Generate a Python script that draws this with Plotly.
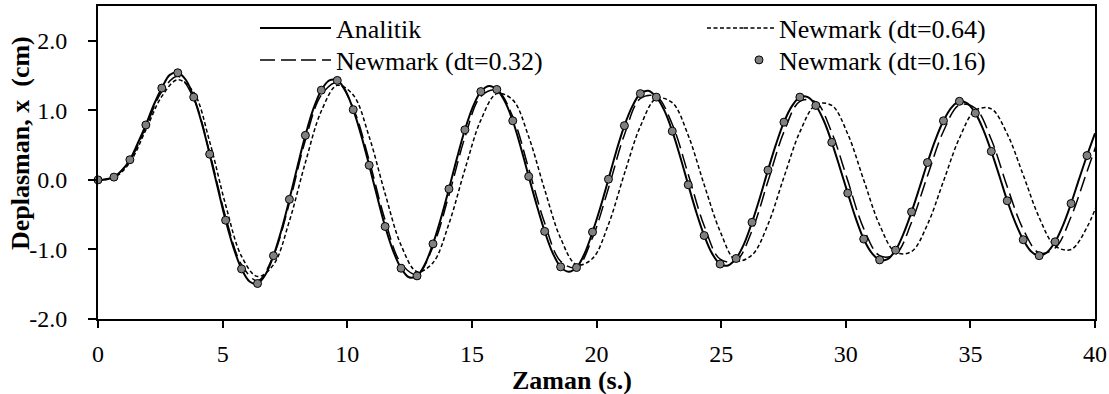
import plotly.graph_objects as go

# ---------------- data ----------------
t_analytic = [0, 0.32, 0.64, 0.96, 1.28, 1.6, 1.92, 2.24, 2.56, 2.88, 3.2, 3.52, 3.84, 4.16, 4.48, 4.8,
              5.12, 5.44, 5.76, 6.08, 6.4, 6.72, 7.04, 7.36, 7.68, 8.0, 8.32, 8.64, 8.96, 9.28, 9.6, 9.92,
              10.24, 10.56, 10.88, 11.2, 11.52, 11.84, 12.16, 12.48, 12.8, 13.12, 13.44, 13.76, 14.08, 14.4,
              14.72, 15.04, 15.36, 15.68, 16.0, 16.32, 16.64, 16.96, 17.28, 17.6, 17.92, 18.24, 18.56, 18.88,
              19.2, 19.52, 19.84, 20.16, 20.48, 20.8, 21.12, 21.44, 21.76, 22.08, 22.4, 22.72, 23.04, 23.36,
              23.68, 24.0, 24.32, 24.64, 24.96, 25.28, 25.6, 25.92, 26.24, 26.56, 26.88, 27.2, 27.52, 27.84,
              28.16, 28.48, 28.8, 29.12, 29.44, 29.76, 30.08, 30.4, 30.72, 31.04, 31.36, 31.68, 32.0, 32.32,
              32.64, 32.96, 33.28, 33.6, 33.92, 34.24, 34.56, 34.88, 35.2, 35.52, 35.84, 36.16, 36.48, 36.8,
              37.12, 37.44, 37.76, 38.08, 38.4, 38.72, 39.04, 39.36, 39.68, 40.0]
x_analytic = [0.00, 0.01, 0.04, 0.14, 0.29, 0.53, 0.79, 1.08, 1.32, 1.51, 1.54, 1.44, 1.19, 0.82, 0.37, -0.11,
              -0.58, -0.98, -1.28, -1.46, -1.49, -1.36, -1.09, -0.72, -0.28, 0.19, 0.64, 1.02, 1.29, 1.43, 1.43, 1.29,
              1.01, 0.64, 0.21, -0.24, -0.67, -1.02, -1.27, -1.40, -1.38, -1.21, -0.92, -0.55, -0.13, 0.31,
              0.72, 1.05, 1.27, 1.35, 1.30, 1.13, 0.85, 0.47, 0.05, -0.36, -0.74, -1.05, -1.25, -1.32,
              -1.26, -1.06, -0.75, -0.39, 0.01, 0.42, 0.78, 1.06, 1.24, 1.28, 1.19, 1.00, 0.70, 0.33,
              -0.07, -0.46, -0.80, -1.06, -1.21, -1.23, -1.13, -0.92, -0.61, -0.25, 0.14, 0.51, 0.83, 1.06,
              1.19, 1.19, 1.07, 0.85, 0.54, 0.18, -0.19, -0.55, -0.85, -1.05, -1.15, -1.14, -1.01, -0.77,
              -0.46, -0.11, 0.25, 0.58, 0.85, 1.04, 1.13, 1.10, 0.96, 0.72, 0.41, 0.06, -0.30, -0.61,
              -0.86, -1.03, -1.09, -1.04, -0.89, -0.65, -0.34, 0.01, 0.35, 0.67]

t_step = [0, 0.64, 1.28, 1.92, 2.56, 3.2, 3.84, 4.48, 5.12, 5.76, 6.4, 7.04, 7.68, 8.32, 8.96, 9.6,
          10.24, 10.88, 11.52, 12.16, 12.8, 13.44, 14.08, 14.72, 15.36, 16.0, 16.64, 17.28, 17.92, 18.56,
          19.2, 19.84, 20.48, 21.12, 21.76, 22.4, 23.04, 23.68, 24.32, 24.96, 25.6, 26.24, 26.88, 27.52,
          28.16, 28.8, 29.44, 30.08, 30.72, 31.36, 32.0, 32.64, 33.28, 33.92, 34.56, 35.2, 35.84, 36.48,
          37.12, 37.76, 38.4, 39.04, 39.68, 40.32]

x_dt064 = [0.00, 0.03, 0.25, 0.72, 1.20, 1.44, 1.26, 0.55, -0.36, -1.10, -1.39, -1.22, -0.59, 0.25, 0.99, 1.36,
           1.22, 0.62, -0.20, -0.94, -1.32, -1.19, -0.63, 0.15, 0.86, 1.24, 1.15, 0.62, -0.14, -0.84,
           -1.22, -1.13, -0.64, 0.09, 0.77, 1.17, 1.11, 0.64, -0.07, -0.74, -1.16, -1.08, -0.64, 0.04,
           0.69, 1.08, 1.07, 0.66, 0.00, -0.65, -1.04, -1.03, -0.64, -0.02, 0.60, 1.00, 1.02, 0.66,
           0.07, -0.54, -0.95, -1.00, -0.68, -0.12]

x_dt032 = [0.00, 0.04, 0.28, 0.76, 1.27, 1.49, 1.17, 0.39, -0.53, -1.22, -1.45, -1.09, -0.33, 0.57, 1.22, 1.40,
           1.03, 0.28, -0.58, -1.20, -1.36, -0.96, -0.22, 0.61, 1.20, 1.29, 0.91, 0.16, -0.62, -1.17,
           -1.26, -0.83, -0.12, 0.65, 1.17, 1.20, 0.80, 0.08, -0.66, -1.14, -1.16, -0.73, -0.02, 0.69,
           1.13, 1.12, 0.68, -0.01, -0.70, -1.09, -1.07, -0.61, 0.06, 0.70, 1.08, 1.03, 0.58, -0.10,
           -0.71, -1.05, -0.98, -0.53, 0.12, 0.78]

x_dt016 = [0.00, 0.04, 0.29, 0.79, 1.32, 1.54, 1.19, 0.37, -0.58, -1.28, -1.49, -1.09, -0.28, 0.64, 1.29, 1.43,
           1.01, 0.21, -0.67, -1.27, -1.38, -0.92, -0.13, 0.72, 1.27, 1.30, 0.85, 0.05, -0.74, -1.25,
           -1.26, -0.75, 0.01, 0.78, 1.24, 1.19, 0.70, -0.07, -0.80, -1.21, -1.13, -0.61, 0.14, 0.83,
           1.19, 1.07, 0.54, -0.19, -0.85, -1.15, -1.01, -0.46, 0.25, 0.85, 1.13, 0.96, 0.41, -0.30,
           -0.86, -1.09, -0.89, -0.34, 0.35]
t_dt016 = t_step[:len(x_dt016)]

x_ticks = [0, 5, 10, 15, 20, 25, 30, 35, 40]
y_ticks = [-2, -1, 0, 1, 2]
y_ticktext = ["%.1f" % v for v in y_ticks]   # plain hyphen-minus, as in the reference

# ---------------- figure ----------------
W, H = 1109, 394
ML, MR, MT, MB = 98, 14, 6, 75
PW, PH = W - ML - MR, H - MT - MB
FONT = "Liberation Serif, Times New Roman, serif"
FS = 24
LEG_FS = 26
DASH_LONG = "15px,6px"
DASH_SHORT = "4px,2.5px"

def px_x(px):   # pixel -> paper x
    return (px - ML) / PW

def px_y(py):   # pixel -> paper y
    return (H - MB - py) / PH

fig = go.Figure()
fig.add_trace(go.Scatter(x=t_analytic, y=x_analytic, mode="lines", name="Analitik",
                         line=dict(color="black", width=2, shape="spline", smoothing=1),
                         legend="legend"))
fig.add_trace(go.Scatter(x=t_step, y=x_dt032, mode="lines", name="Newmark (dt=0.32)",
                         line=dict(color="black", width=1.5, dash=DASH_LONG, shape="spline", smoothing=1),
                         legend="legend2"))
fig.add_trace(go.Scatter(x=t_step, y=x_dt064, mode="lines", name="Newmark (dt=0.64)",
                         line=dict(color="black", width=1.5, dash=DASH_SHORT, shape="spline", smoothing=1),
                         legend="legend3"))
fig.add_trace(go.Scatter(x=t_dt016, y=x_dt016, mode="markers", name="Newmark (dt=0.16)",
                         marker=dict(color="#808080", size=8, line=dict(color="black", width=1)),
                         cliponaxis=False, legend="legend4"))

axis_common = dict(showgrid=False, zeroline=False, showline=True, linecolor="black", linewidth=2,
                   mirror=True, ticks="outside", tickcolor="black", tickwidth=2,
                   tickfont=dict(family=FONT, size=FS, color="black"))

ROW1, ROW2 = 28, 60          # legend row centres (px from top)
COL1, COL2 = 296, 739        # legend box left edges (px)

def leg(xpx, ypx):
    return dict(xref="container", yref="container", x=xpx / W, y=1 - ypx / H,
                xanchor="left", yanchor="middle", bgcolor="rgba(0,0,0,0)",
                font=dict(family=FONT, size=LEG_FS, color="black"), itemwidth=30)

# longer legend line samples, as drawn in the reference
legend_ext = [
    dict(type="line", xref="paper", yref="paper", x0=px_x(260), x1=px_x(303), y0=px_y(ROW1), y1=px_y(ROW1),
         line=dict(color="black", width=2)),
    dict(type="line", xref="paper", yref="paper", x0=px_x(260), x1=px_x(302), y0=px_y(ROW2), y1=px_y(ROW2),
         line=dict(color="black", width=1.5, dash=DASH_LONG)),
    dict(type="line", xref="paper", yref="paper", x0=px_x(707), x1=px_x(745), y0=px_y(ROW1), y1=px_y(ROW1),
         line=dict(color="black", width=1.5, dash=DASH_SHORT)),
]

fig.update_layout(
    width=W, height=H,
    showlegend=True,
    margin=dict(l=ML, r=MR, t=MT, b=MB, autoexpand=False),
    paper_bgcolor="white", plot_bgcolor="white",
    font=dict(family=FONT, size=FS, color="black"),
    xaxis=dict(range=[0, 40], tickvals=x_ticks, ticklen=7, ticklabelstandoff=5, **axis_common),
    yaxis=dict(range=[-2, 2.5], tickvals=y_ticks, ticktext=y_ticktext, ticklen=8,
               ticklabelstandoff=16, **axis_common),
    legend=leg(COL1, ROW1),
    legend2=leg(COL1, ROW2),
    legend3=leg(COL2, ROW1),
    legend4=leg(COL2, ROW2),
    shapes=legend_ext,
    annotations=[
        dict(text="<b>Zaman (s.)</b>", xref="paper", yref="paper", x=px_x(572), y=px_y(380),
             showarrow=False, font=dict(family=FONT, size=26), xanchor="center", yanchor="middle"),
        dict(text="<b>Deplasman, x\u00a0 (cm)</b>", xref="paper", yref="paper", x=px_x(20),
             y=px_y(143), textangle=-90, showarrow=False,
             font=dict(family=FONT, size=26), xanchor="center", yanchor="middle"),
    ],
)

fig.write_html("out.html")
